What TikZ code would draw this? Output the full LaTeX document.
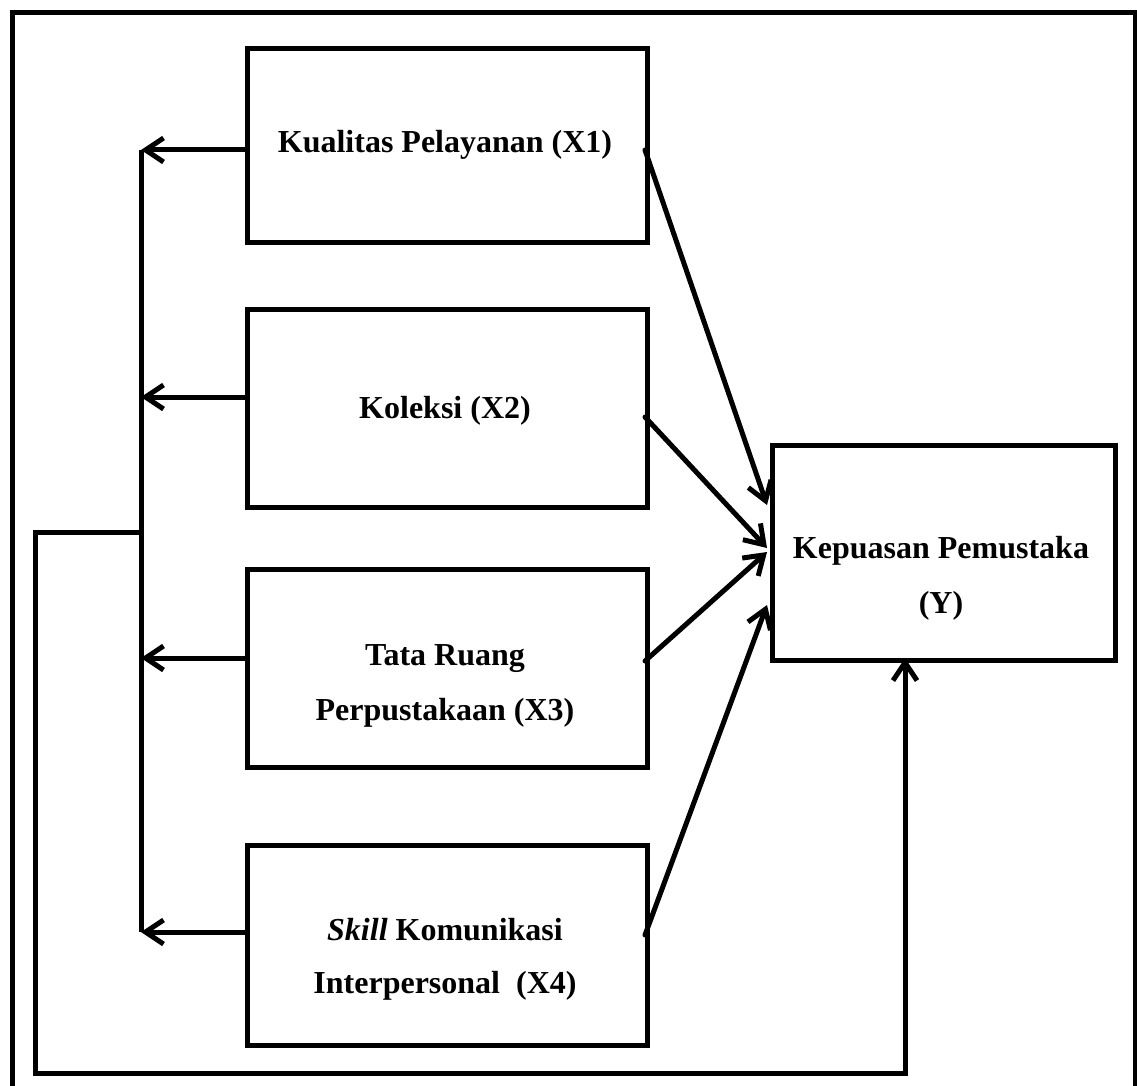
\documentclass[tikz,border=0pt]{standalone}
\usepackage{fontspec}
\setmainfont{Liberation Serif}
\usetikzlibrary{arrows.meta}
\begin{document}
\begin{tikzpicture}[x=1pt,y=-1pt,
  ln/.style={line width=5pt, line cap=round, line join=miter},
  arr/.style={ln, -{Straight Barb[length=18pt,width=24pt]}},
  boxx/.style={draw, line width=5pt, inner sep=0pt, anchor=north west},
  txt/.style={font=\fontsize{32}{55}\selectfont\bfseries, inner sep=0pt, anchor=base}
]
\useasboundingbox (0,0) rectangle (1137,1086);
% outer frame
\draw[line width=5pt] (12,1092) -- (12,13) -- (1135,13) -- (1135,1092);
% boxes
\node[boxx, minimum width=400pt, minimum height=194pt] (x1) at (245,46) {};
\node[boxx, minimum width=400pt, minimum height=198pt] (x2) at (245,307) {};
\node[boxx, minimum width=400pt, minimum height=198pt] (x3) at (245,567) {};
\node[boxx, minimum width=400pt, minimum height=200pt] (x4) at (245,843) {};
\node[boxx, minimum width=343pt, minimum height=215pt] (y) at (770,443) {};
% texts
\node[txt] (t1) at (445,153) {Kualitas Pelayanan (X1)};
\node[txt] (t2) at (445,418) {Koleksi (X2)};
\node[txt] (t3a) at (445,665) {Tata Ruang};
\node[txt] (t3b) at (445,720) {Perpustakaan (X3)};
\node[txt] (t4a) at (445,940) {\textit{Skill} Komunikasi};
\node[txt] (t4b) at (445,993) {Interpersonal\ \ (X4)};
\node[txt] (ta) at (941,558) {Kepuasan Pemustaka};
\node[txt] (tb) at (941,613) {(Y)};
% coordinates
\coordinate (b1) at (141,150);
\coordinate (b2) at (141,397);
\coordinate (b3) at (141,658);
\coordinate (b4) at (141,932);
\coordinate (s1) at (245,150);
\coordinate (s2) at (245,397);
\coordinate (s3) at (245,658);
\coordinate (s4) at (245,932);
\coordinate (e1) at (645,150);
\coordinate (e2) at (645,417);
\coordinate (e3) at (645,661);
\coordinate (e4) at (645,935);
\coordinate (y1) at (767,505);
\coordinate (y2) at (767,548);
\coordinate (y3) at (767,552);
\coordinate (y4) at (767,605);
\coordinate (j) at (141,532);
\coordinate (fa) at (35,532);
\coordinate (fb) at (35,1073);
\coordinate (fc) at (905,1073);
\coordinate (yb) at (905,658);
% left bus
\draw[ln, line cap=butt] (b1) -- (b4);
\draw[arr] (s1) -- (b1);
\draw[arr] (s2) -- (b2);
\draw[arr] (s3) -- (b3);
\draw[arr] (s4) -- (b4);
% arrows to Y
\draw[arr] (e1) -- (y1);
\draw[arr] (e2) -- (y2);
\draw[arr] (e3) -- (y3);
\draw[arr] (e4) -- (y4);
% feedback
\draw[arr, line cap=butt] (j) -- (fa) -- (fb) -- (fc) -- (yb);
\end{tikzpicture}
\end{document}
